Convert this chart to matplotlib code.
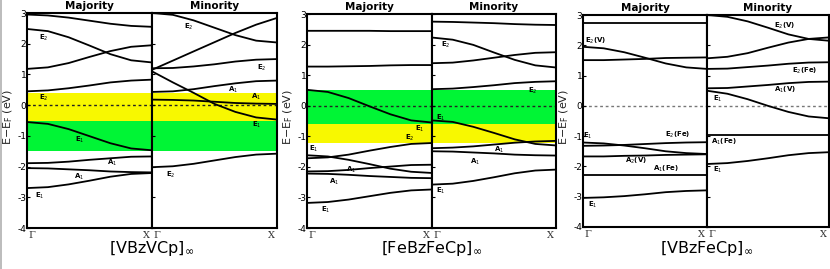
import matplotlib
matplotlib.use("Agg")
import matplotlib.pyplot as plt
from matplotlib.lines import Line2D

W, H = 830, 269
K = [0.0, 0.167, 0.333, 0.5, 0.667, 0.833, 1.0]

# ---------------- [VBzVCp] ----------------
p1_maj_bands = [
    [2.95, 2.92, 2.85, 2.75, 2.65, 2.58, 2.55],
    [2.48, 2.41, 2.21, 1.94, 1.66, 1.46, 1.39],
    [1.18, 1.23, 1.37, 1.57, 1.76, 1.90, 1.95],
    [0.45, 0.48, 0.55, 0.64, 0.74, 0.80, 0.83],
    [-0.55, -0.61, -0.78, -1.01, -1.24, -1.41, -1.47],
    [-1.89, -1.88, -1.84, -1.78, -1.73, -1.68, -1.67],
    [-2.05, -2.06, -2.09, -2.12, -2.16, -2.18, -2.19],
    [-2.70, -2.67, -2.58, -2.46, -2.33, -2.24, -2.21],
]
p1_min_bands = [
    [3.00, 2.94, 2.76, 2.52, 2.28, 2.10, 2.04],
    [1.15, 1.45, 1.75, 2.05, 2.35, 2.62, 2.84],
    [1.20, 1.21, 1.26, 1.33, 1.42, 1.48, 1.50],
    [1.10, 0.74, 0.40, 0.04, -0.22, -0.40, -0.47],
    [0.43, 0.45, 0.52, 0.62, 0.71, 0.78, 0.80],
    [0.18, 0.17, 0.15, 0.11, 0.07, 0.05, 0.04],
    [-2.02, -1.99, -1.91, -1.80, -1.69, -1.61, -1.58],
]
p1_maj_labels = [(0.13, 2.20, r"E$_2$"), (0.13, 0.24, r"E$_2$"), (0.42, -1.13, r"E$_1$"),
                 (0.68, -1.89, r"A$_1$"), (0.42, -2.32, r"A$_1$"), (0.10, -2.97, r"E$_1$")]
p1_min_labels = [(0.29, 2.56, r"E$_2$"), (0.88, 1.20, r"E$_2$"), (0.65, 0.50, r"A$_1$"),
                 (0.83, 0.26, r"A$_1$"), (0.84, -0.64, r"E$_1$"), (0.15, -2.27, r"E$_2$")]
p1_spans = [(-0.50, 0.39, "#f8f800"), (-1.48, -0.50, "#00f535")]

# ---------------- [FeBzFeCp] ----------------
p2_maj_bands = [
    [2.45, 2.45, 2.45, 2.45, 2.44, 2.44, 2.44],
    [1.28, 1.28, 1.29, 1.30, 1.32, 1.33, 1.33],
    [0.52, 0.45, 0.25, -0.02, -0.28, -0.48, -0.55],
    [-1.72, -1.69, -1.60, -1.47, -1.35, -1.25, -1.22],
    [-1.62, -1.66, -1.77, -1.91, -2.06, -2.16, -2.20],
    [-2.15, -2.14, -2.10, -2.04, -1.99, -1.94, -1.93],
    [-2.22, -2.23, -2.26, -2.30, -2.33, -2.36, -2.37],
    [-3.18, -3.15, -3.07, -2.96, -2.85, -2.77, -2.74],
]
p2_min_bands = [
    [2.75, 2.74, 2.72, 2.70, 2.67, 2.65, 2.64],
    [2.23, 2.16, 1.99, 1.74, 1.50, 1.32, 1.25],
    [1.39, 1.41, 1.48, 1.57, 1.66, 1.73, 1.75],
    [0.54, 0.56, 0.61, 0.67, 0.74, 0.78, 0.80],
    [-0.48, -0.53, -0.69, -0.89, -1.10, -1.25, -1.30],
    [-1.39, -1.37, -1.33, -1.27, -1.21, -1.17, -1.15],
    [-1.49, -1.50, -1.53, -1.56, -1.60, -1.62, -1.63],
    [-2.58, -2.55, -2.46, -2.34, -2.21, -2.12, -2.09],
]
p2_maj_labels = [(0.90, -0.75, r"E$_1$"), (0.82, -1.05, r"E$_2$"), (0.05, -1.42, r"E$_1$"),
                 (0.35, -2.10, r"A$_1$"), (0.22, -2.48, r"A$_1$"), (0.15, -3.40, r"E$_1$")]
p2_min_labels = [(0.11, 2.00, r"E$_2$"), (0.81, 0.47, r"E$_2$"), (0.07, -0.40, r"E$_1$"),
                 (0.54, -1.43, r"A$_1$"), (0.35, -1.85, r"A$_1$"), (0.07, -2.80, r"E$_1$")]
p2_spans = [(-0.59, 0.50, "#00f535"), (-1.22, -0.59, "#f8f800")]

# ---------------- [VBzFeCp] ----------------
p3_maj_bands = [
    [2.75, 2.75, 2.75, 2.75, 2.75, 2.75, 2.75],
    [1.95, 1.90, 1.77, 1.59, 1.40, 1.27, 1.22],
    [1.51, 1.51, 1.53, 1.55, 1.58, 1.59, 1.60],
    [-1.21, -1.24, -1.31, -1.40, -1.50, -1.56, -1.59],
    [-1.32, -1.31, -1.29, -1.26, -1.23, -1.21, -1.20],
    [-1.67, -1.67, -1.65, -1.64, -1.62, -1.61, -1.60],
    [-2.27, -2.27, -2.27, -2.27, -2.27, -2.27, -2.27],
    [-3.04, -3.02, -2.98, -2.92, -2.85, -2.81, -2.79],
]
p3_min_bands = [
    [3.00, 2.94, 2.79, 2.58, 2.36, 2.21, 2.15],
    [1.57, 1.62, 1.74, 1.92, 2.09, 2.21, 2.26],
    [1.22, 1.23, 1.28, 1.33, 1.39, 1.43, 1.44],
    [0.58, 0.59, 0.64, 0.69, 0.75, 0.79, 0.80],
    [0.50, 0.40, 0.22, 0.00, -0.20, -0.35, -0.41],
    [-0.96, -0.96, -0.96, -0.96, -0.96, -0.96, -0.96],
    [-1.92, -1.89, -1.82, -1.73, -1.63, -1.56, -1.53],
]
p3_maj_labels = [(0.10, 2.15, r"E$_2$(V)"), (0.04, -0.99, r"E$_1$"), (0.76, -0.96, r"E$_2$(Fe)"),
                 (0.43, -1.81, r"A$_2$(V)"), (0.67, -2.08, r"A$_1$(Fe)"), (0.08, -3.26, r"E$_1$")]
p3_min_labels = [(0.64, 2.64, r"E$_2$(V)"), (0.80, 1.16, r"E$_2$(Fe)"), (0.64, 0.53, r"A$_1$(V)"),
                 (0.09, 0.22, r"E$_1$"), (0.14, -1.18, r"A$_1$(Fe)"), (0.09, -2.13, r"E$_1$")]
p3_spans = []

yticks = [-4, -3, -2, -1, 0, 1, 2, 3]
ytick_labels = ["-4", "-3", "-2", "-1", "0", "1", "2", "3"]
titles = ["Majority", "Minority"]
compounds = [r"[VBzVCp]$_{\infty}$", r"[FeBzFeCp]$_{\infty}$", r"[VBzFeCp]$_{\infty}$"]
ylabel = r"E$-$E$_\mathrm{F}$ (eV)"

# pixel geometry of panels: (x_left, x_mid, x_right, y_top, y_bottom)
geom = [(27, 152, 277, 13, 228), (307, 432, 556, 14, 228), (583, 707, 829, 15, 227)]
panels = [
    (p1_maj_bands, p1_min_bands, p1_maj_labels, p1_min_labels, p1_spans, "#222222"),
    (p2_maj_bands, p2_min_bands, p2_maj_labels, p2_min_labels, p2_spans, "#222222"),
    (p3_maj_bands, p3_min_bands, p3_maj_labels, p3_min_labels, p3_spans, "#777777"),
]

fig = plt.figure(figsize=(W / 100, H / 100), dpi=100)
fig.patch.set_facecolor("white")


def rect(x0, x1, yt, yb):
    return [x0 / W, (H - yb) / H, (x1 - x0) / W, (yb - yt) / H]


for (xl, xm, xr, yt, yb), (mb, nb, ml, nl, spans, fcol), comp in zip(geom, panels, compounds):
    ax_maj = fig.add_axes(rect(xl, xm, yt, yb))
    ax_min = fig.add_axes(rect(xm, xr, yt, yb))
    for i, (ax, bands, labels) in enumerate([(ax_maj, mb, ml), (ax_min, nb, nl)]):
        ax.set_xlim(0, 1)
        ax.set_ylim(-4, 3)
        for lo, hi, c in spans:
            ax.axhspan(lo, hi, color=c, lw=0, zorder=0)
        ax.axhline(0, color=fcol, lw=1.0, ls=(0, (2, 2)), zorder=1)
        for b in bands:
            ax.plot(K, b, color="black", lw=1.3, zorder=2, solid_capstyle="butt")
        for kx, e, s in labels:
            ax.text(kx, e, s, fontsize=5, fontweight="bold", ha="center", va="center", zorder=3)
        for sp in ax.spines.values():
            sp.set_linewidth(1.5)
        ax.set_xticks([])
        ax.set_yticks(yticks)
        ax.tick_params(axis="y", direction="in", length=2, width=0.8, pad=0.5, labelsize=6.5)
        if i == 0:
            ax.set_yticklabels(ytick_labels)
        else:
            ax.set_yticklabels([])
        ax.text(0.5, 1.0 + 7 / (yb - yt), titles[i], transform=ax.transAxes, ha="center",
                va="center", fontsize=7.5, fontweight="bold")
        ax.text(0.01, -0.012, "\u0393", transform=ax.transAxes, ha="left", va="top",
                fontsize=7, family="DejaVu Serif", color="#333333")
        ax.text(0.985, -0.012, "X", transform=ax.transAxes, ha="right", va="top",
                fontsize=7, family="DejaVu Serif", color="#333333")
    fig.text((xl - 19) / W, (H - 117) / H, ylabel, rotation=90, ha="center", va="center",
             fontsize=8, color="#222222")
    fig.text(xm / W, (H - 249) / H, comp, ha="center", va="center", fontsize=11.5)

fig.add_artist(Line2D([1.0 / W, 1.0 / W], [0, 1], color="#b0b0b0", lw=1.2))

fig.savefig("out.png", dpi=100)
